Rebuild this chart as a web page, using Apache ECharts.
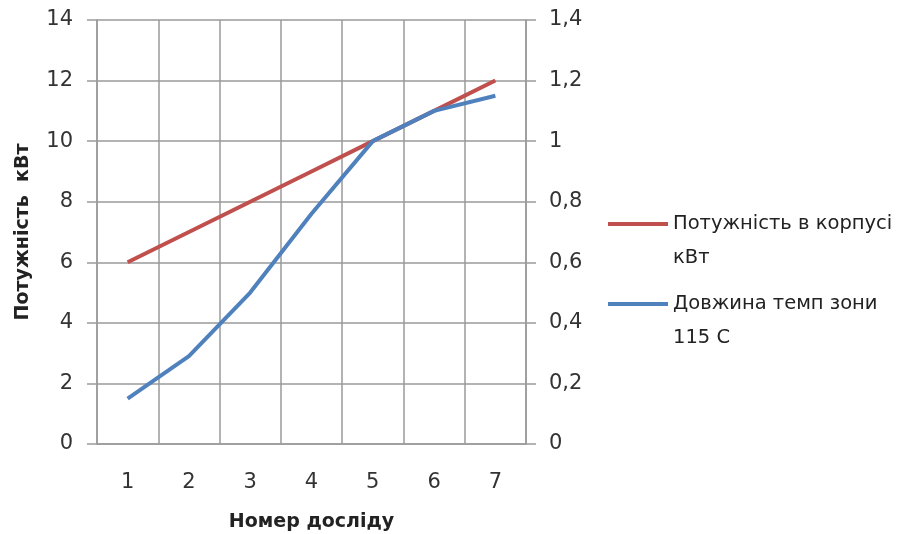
<!DOCTYPE html>
<html>
<head>
<meta charset="utf-8">
<script src="https://cdn.jsdelivr.net/npm/echarts@6/dist/echarts.min.js"></script>
<style>html,body{margin:0;padding:0;background:#fff}#c{width:910px;height:534px}</style>
</head>
<body>
<div id="c"></div>
<script>
const categories = ['1', '2', '3', '4', '5', '6', '7'];
const powerValues = [6, 7, 8, 9, 10, 11, 12];
const lengthValues = [0.15, 0.29, 0.5, 0.76, 1.0, 1.1, 1.15];
const powerName = 'Потужність в корпусі кВт';
const lengthName = 'Довжина темп зони 115 С';
const legendLabels = {};
legendLabels[powerName] = '\u00a0\nПотужність в корпусі\nкВт';
legendLabels[lengthName] = '\u00a0\nДовжина темп зони\n115 С';

const FONT = 'DejaVu Sans';
const gridColor = '#9a9a9a';
const labelColor = '#333';
const chart = echarts.init(document.getElementById('c'));
const legendBase = {
  orient: 'vertical',
  left: 608,
  padding: 0,
  itemWidth: 60,
  itemHeight: 4,
  icon: 'rect',
  itemGap: 0,
  formatter: n => legendLabels[n],
  textStyle: { fontFamily: FONT, fontSize: 19.5, color: '#222', lineHeight: 34 }
};
chart.setOption({
  animation: false,
  backgroundColor: '#fff',
  grid: { left: 97, right: 384, top: 20, bottom: 90, containLabel: false, outerBoundsMode: 'none' },
  legend: [
    Object.assign({}, legendBase, { data: [powerName], top: 173 }),
    Object.assign({}, legendBase, { data: [lengthName], top: 253 })
  ],
  xAxis: {
    type: 'category',
    data: categories,
    boundaryGap: true,
    name: 'Номер досліду',
    nameLocation: 'middle',
    nameGap: 69,
    nameTextStyle: { fontFamily: FONT, fontSize: 19, fontWeight: 'bold', color: '#222' },
    axisLine: { show: true, lineStyle: { color: gridColor, width: 1.5 } },
    axisTick: { show: false },
    axisLabel: { fontFamily: FONT, fontSize: 21, color: labelColor, margin: 28 },
    splitLine: { show: true, lineStyle: { color: gridColor, width: 1.5 } }
  },
  yAxis: [
    {
      type: 'value',
      min: 0, max: 14, interval: 2,
      name: 'Потужність  кВт',
      nameLocation: 'middle',
      nameGap: 64,
      nameRotate: 90,
      nameTextStyle: { fontFamily: FONT, fontSize: 19, fontWeight: 'bold', color: '#222' },
      axisLine: { show: true, lineStyle: { color: gridColor, width: 1.5 } },
      axisTick: { show: true, length: 10, lineStyle: { color: gridColor, width: 1.5 } },
      axisLabel: { fontFamily: FONT, fontSize: 21, color: labelColor, margin: 24 },
      splitLine: { show: true, lineStyle: { color: gridColor, width: 1.5 } }
    },
    {
      type: 'value',
      min: 0, max: 1.4, interval: 0.2,
      position: 'right',
      axisLine: { show: true, lineStyle: { color: gridColor, width: 1.5 } },
      axisTick: { show: true, length: 10, lineStyle: { color: gridColor, width: 1.5 } },
      axisLabel: { fontFamily: FONT, fontSize: 21, color: labelColor, margin: 23,
        formatter: v => String(Math.round(v * 10) / 10).replace('.', ',') },
      splitLine: { show: false }
    }
  ],
  series: [
    {
      name: powerName, type: 'line', yAxisIndex: 0, data: powerValues,
      symbol: 'none', lineStyle: { color: '#C0504D', width: 4 }, itemStyle: { color: '#C0504D' }
    },
    {
      name: lengthName, type: 'line', yAxisIndex: 1, data: lengthValues,
      symbol: 'none', lineStyle: { color: '#4F81BD', width: 4 }, itemStyle: { color: '#4F81BD' }
    }
  ]
});
</script>
</body>
</html>
